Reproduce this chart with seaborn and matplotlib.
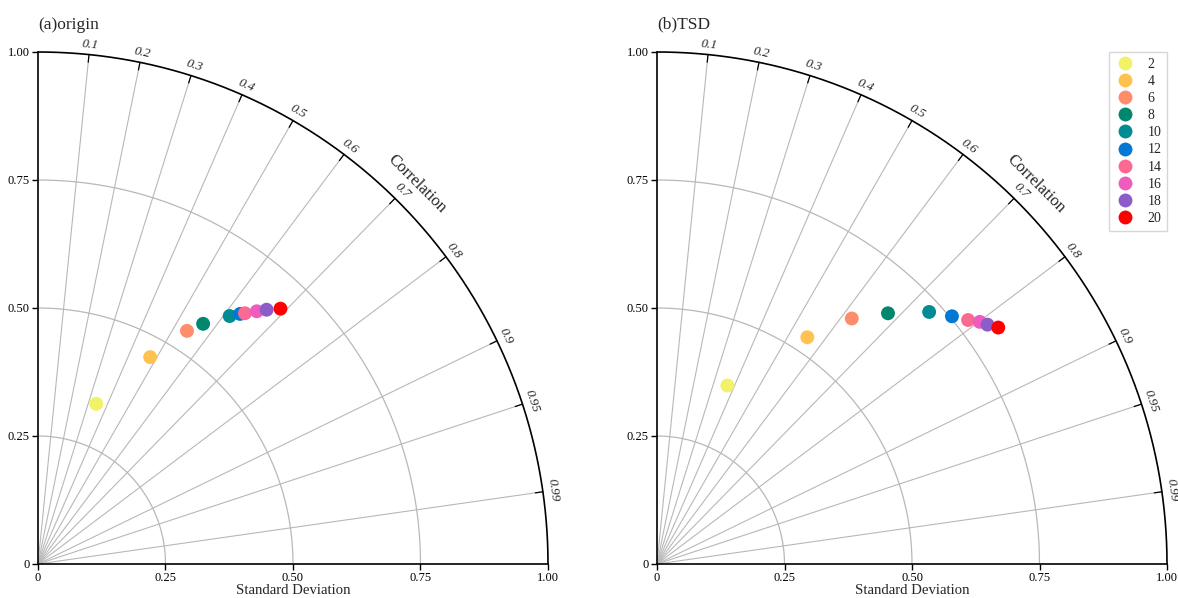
import numpy as np
import pandas as pd
import matplotlib
matplotlib.use("Agg")
import matplotlib.pyplot as plt
import seaborn as sns

# ---- data ----
windows = ["2", "4", "6", "8", "10", "12", "14", "16", "18", "20"]
colors = ["#F2F266", "#FFC250", "#FF8C6B", "#00876E", "#008C92",
          "#0078D4", "#FA6A92", "#EE5CC0", "#8C5CC8", "#FF0000"]

std_origin = [0.333, 0.460, 0.541, 0.570, 0.613, 0.629, 0.636, 0.654, 0.669, 0.689]
corr_origin = [0.343, 0.478, 0.540, 0.568, 0.613, 0.630, 0.638, 0.656, 0.670, 0.690]

std_tsd = [0.375, 0.532, 0.613, 0.667, 0.726, 0.754, 0.774, 0.790, 0.799, 0.813]
corr_tsd = [0.368, 0.554, 0.623, 0.679, 0.735, 0.767, 0.788, 0.801, 0.811, 0.823]

corr_ticks = [0.1, 0.2, 0.3, 0.4, 0.5, 0.6, 0.7, 0.8, 0.9, 0.95, 0.99]
std_ticks = [0, 0.25, 0.5, 0.75, 1.0]
std_ticklabels = ["0", "0.25", "0.50", "0.75", "1.00"]
titles = ["(a)origin", "(b)TSD"]

sns.set_style("white")
plt.rcParams["font.family"] = ["Liberation Serif", "DejaVu Serif"]

fig = plt.figure(figsize=(11.78, 5.98), dpi=100)
positions = [[38 / 1178, 34 / 598, 510 / 1178, 512 / 598],
             [657 / 1178, 34 / 598, 510 / 1178, 512 / 598]]

palette = dict(zip(windows, colors))
grid_col = "#B8B8B8"


def taylor(ax, std, corr, title, legend):
    std = np.asarray(std)
    corr = np.asarray(corr)
    df = pd.DataFrame({
        "x": std * corr,
        "y": std * np.sqrt(1 - corr ** 2),
        "window": windows,
    })
    ax.set_xlim(0, 1)
    ax.set_ylim(0, 1)
    # std arcs
    t = np.linspace(0, np.pi / 2, 300)
    for r in [0.25, 0.5, 0.75]:
        ax.plot(r * np.cos(t), r * np.sin(t), color=grid_col, lw=0.9, zorder=1)
    ax.plot(np.cos(t), np.sin(t), color="black", lw=1.2, zorder=3, clip_on=False)
    # correlation lines
    for c in corr_ticks:
        th = np.arccos(c)
        ax.plot([0, np.cos(th)], [0, np.sin(th)], color=grid_col, lw=0.8, zorder=1)
        ax.plot([0.985 * np.cos(th), np.cos(th)], [0.985 * np.sin(th), np.sin(th)],
                color="black", lw=0.9, zorder=3, clip_on=False)
        lab = f"{c:g}"
        ax.text(1.02 * np.cos(th), 1.02 * np.sin(th), lab, rotation=np.degrees(th) - 90,
                ha="center", va="center", fontsize=9.5, fontstyle="italic",
                rotation_mode="anchor")
    ax.text(1.05 * np.cos(np.radians(45)), 1.05 * np.sin(np.radians(45)), "Correlation",
            rotation=-45, ha="center", va="center", fontsize=12, rotation_mode="anchor")

    sns.scatterplot(data=df, x="x", y="y", hue="window", palette=palette,
                    hue_order=windows, s=100, linewidth=0, ax=ax, zorder=5,
                    legend=legend, clip_on=False)

    for side in ["top", "right"]:
        ax.spines[side].set_visible(False)
    for side in ["left", "bottom"]:
        ax.spines[side].set_color("black")
        ax.spines[side].set_linewidth(1.2)
    ax.set_xticks(std_ticks)
    ax.set_xticklabels(std_ticklabels)
    ax.set_yticks(std_ticks)
    ax.set_yticklabels(std_ticklabels)
    ax.tick_params(axis="both", direction="out", length=4, width=1, labelsize=9,
                   bottom=True, left=True, pad=2, colors="black")
    ax.set_xlabel("Standard Deviation", fontsize=10.6, labelpad=0)
    ax.set_ylabel("")
    ax.text(0.0, 1.053, title, transform=ax.transAxes, ha="left", va="center",
            fontsize=12.5)
    if legend:
        leg = ax.legend(loc="upper right", bbox_to_anchor=(1.0, 1.0), frameon=True,
                        fontsize=10, title=None, labelspacing=0.3, handletextpad=0.9,
                        handlelength=1.5, borderpad=0.4, borderaxespad=0.0,
                        markerscale=1.0)
        leg.get_frame().set_edgecolor("#CCCCCC")
        leg.get_frame().set_linewidth(1.0)
        leg.get_frame().set_boxstyle("square", pad=0)


ax1 = fig.add_axes(positions[0])
taylor(ax1, std_origin, corr_origin, titles[0], False)
ax2 = fig.add_axes(positions[1])
taylor(ax2, std_tsd, corr_tsd, titles[1], True)

fig.savefig("out.png", dpi=100)
